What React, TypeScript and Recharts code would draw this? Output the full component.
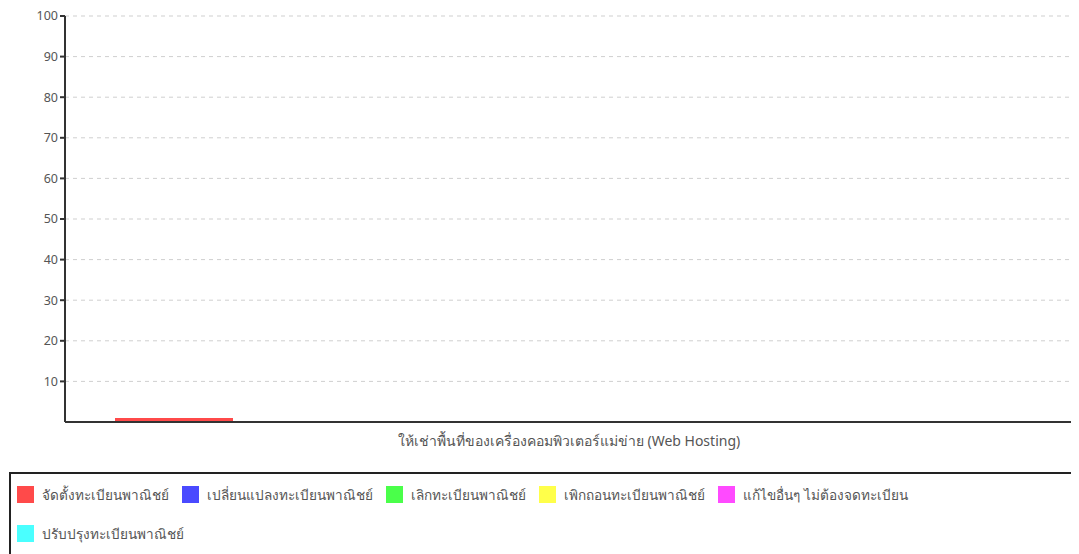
import React from "react";
import { BarChart, Bar, XAxis, YAxis, CartesianGrid } from "recharts";

const categories = ["ให้เช่าพื้นที่ของเครื่องคอมพิวเตอร์แม่ข่าย (Web Hosting)"];
const seriesNames = [
  "จัดตั้งทะเบียนพาณิชย์",
  "เปลี่ยนแปลงทะเบียนพาณิชย์",
  "เลิกทะเบียนพาณิชย์",
  "เพิกถอนทะเบียนพาณิชย์",
  "แก้ไขอื่นๆ ไม่ต้องจดทะเบียน",
  "ปรับปรุงทะเบียนพาณิชย์",
];
const seriesValues = [1, 0, 0, 0, 0, 0];
const seriesColors = ["#ff4a4a", "#4a4aff", "#4aff4a", "#ffff4a", "#ff4aff", "#4affff"];
const yTicks = [10, 20, 30, 40, 50, 60, 70, 80, 90, 100];
const legendRows = [5, 1];

const data = categories.map((c) => {
  const row: Record<string, string | number> = { name: c };
  seriesNames.forEach((s, i) => {
    row["s" + i] = seriesValues[i];
  });
  return row;
});

const FONT = "Tahoma, 'Noto Sans', 'DejaVu Sans', sans-serif";

export default function App() {
  let start = 0;
  const rows = legendRows.map((n) => {
    const r = seriesNames.slice(start, start + n).map((s, k) => ({ s, i: start + k }));
    start += n;
    return r;
  });
  return (
    <div style={{ width: 1071, fontFamily: FONT }}>
      <BarChart
        width={1071}
        height={460}
        data={data}
        margin={{ top: 8, right: 6, left: 0, bottom: 0 }}
        barCategoryGap={50}
        barGap={40}
      >
        <CartesianGrid vertical={false} strokeDasharray="4 4" stroke="#cfcfcf" />
        <XAxis
          dataKey="name"
          height={46}
          tickLine={false}
          axisLine={{ stroke: "#333", strokeWidth: 2 }}
          tick={{ fontSize: 14, fill: "#555", fontFamily: FONT }}
          tickMargin={8}
        />
        <YAxis
          width={57}
          domain={[0, 100]}
          ticks={yTicks}
          interval={0}
          tickSize={5}
          tickLine={{ stroke: "#333", strokeWidth: 2 }}
          axisLine={{ stroke: "#333", strokeWidth: 2 }}
          tick={{ fontSize: 12.5, fill: "#555", fontFamily: FONT }}
        />
        {seriesNames.map((s, i) => (
          <Bar
            key={s}
            dataKey={"s" + i}
            name={s}
            fill={seriesColors[i]}
            isAnimationActive={false}
          />
        ))}
      </BarChart>
      <div
        style={{
          marginTop: 4,
          marginLeft: 1,
          width: 1069,
          height: 84,
          boxSizing: "border-box",
          border: "2px solid #222",
          padding: "11px 0 0 6px",
        }}
      >
        {rows.map((r, ri) => (
          <div key={ri} style={{ display: "flex", height: 39 }}>
            {r.map(({ s, i }) => (
              <div
                key={s}
                style={{
                  display: "flex",
                  alignItems: "center",
                  height: 19,
                  marginRight: 13,
                }}
              >
                <span
                  style={{
                    display: "inline-block",
                    width: 17,
                    height: 17,
                    background: seriesColors[i],
                    marginRight: 8,
                  }}
                />
                <span style={{ fontSize: 13.6, color: "#555" }}>{s}</span>
              </div>
            ))}
          </div>
        ))}
      </div>
    </div>
  );
}
